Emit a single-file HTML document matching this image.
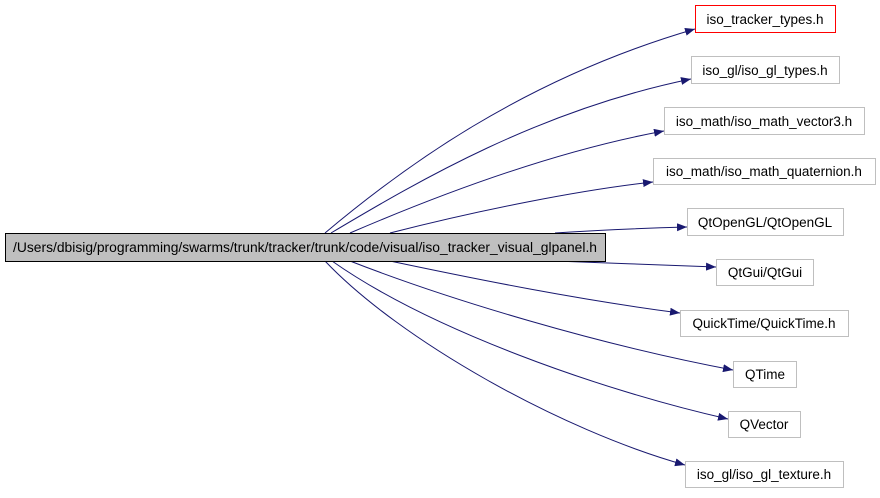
<!DOCTYPE html>
<html><head><style>
body{margin:0;background:#fff;width:880px;height:493px;overflow:hidden}
svg text{font-family:"Liberation Sans",sans-serif;font-size:13.5px}
</style></head><body>
<svg width="880" height="493" xmlns="http://www.w3.org/2000/svg">
<defs><marker id="a" markerWidth="10" markerHeight="8" refX="10" refY="4" orient="auto" markerUnits="userSpaceOnUse"><path d="M0,0L10,4L0,8z" fill="#191970"/></marker></defs>
<g fill="none" stroke="#191970" stroke-width="1" marker-end="url(#a)">
<path d="M325,233C400,170 520,80 695,29"/>
<path d="M331,233C420,180 540,110 691,79"/>
<path d="M350,233C450,190 560,150 664,131"/>
<path d="M390,233C480,210 580,190 653,182"/>
<path d="M555,233C600,230 650,228 687,227"/>
<path d="M555,261C610,263 660,265 716,267"/>
<path d="M390,261C480,280 580,300 680,313"/>
<path d="M350,261C450,300 600,345 733,370"/>
<path d="M332,261C430,330 600,390 728,419"/>
<path d="M325,261C400,340 560,430 685,465"/>
</g>
<g fill="#fff" stroke="#bfbfbf">
<rect x="5.5" y="233.5" width="600" height="28" fill="#bfbfbf" stroke="#000"/>
<rect x="695.5" y="5.5" width="140" height="27" stroke="#f00"/>
<rect x="691.5" y="56.5" width="148" height="27"/>
<rect x="664.5" y="107.5" width="200" height="27"/>
<rect x="653.5" y="158.5" width="222" height="26"/>
<rect x="687.5" y="208.5" width="156" height="27"/>
<rect x="716.5" y="259.5" width="97" height="26"/>
<rect x="680.5" y="310.5" width="168" height="26"/>
<rect x="733.5" y="361.5" width="63" height="26"/>
<rect x="728.5" y="411.5" width="72" height="26"/>
<rect x="685.5" y="461.5" width="158" height="26"/>
</g>
<g fill="#000" text-anchor="middle">
<text x="305" y="252" textLength="584" lengthAdjust="spacingAndGlyphs">/Users/dbisig/programming/swarms/trunk/tracker/trunk/code/visual/iso_tracker_visual_glpanel.h</text>
<text x="765" y="24">iso_tracker_types.h</text>
<text x="765" y="75">iso_gl/iso_gl_types.h</text>
<text x="764" y="126">iso_math/iso_math_vector3.h</text>
<text x="764" y="176">iso_math/iso_math_quaternion.h</text>
<text x="765" y="227">QtOpenGL/QtOpenGL</text>
<text x="765" y="277">QtGui/QtGui</text>
<text x="764" y="328">QuickTime/QuickTime.h</text>
<text x="765" y="379">QTime</text>
<text x="764" y="429">QVector</text>
<text x="764" y="479">iso_gl/iso_gl_texture.h</text>
</g>
</svg>
</body></html>
